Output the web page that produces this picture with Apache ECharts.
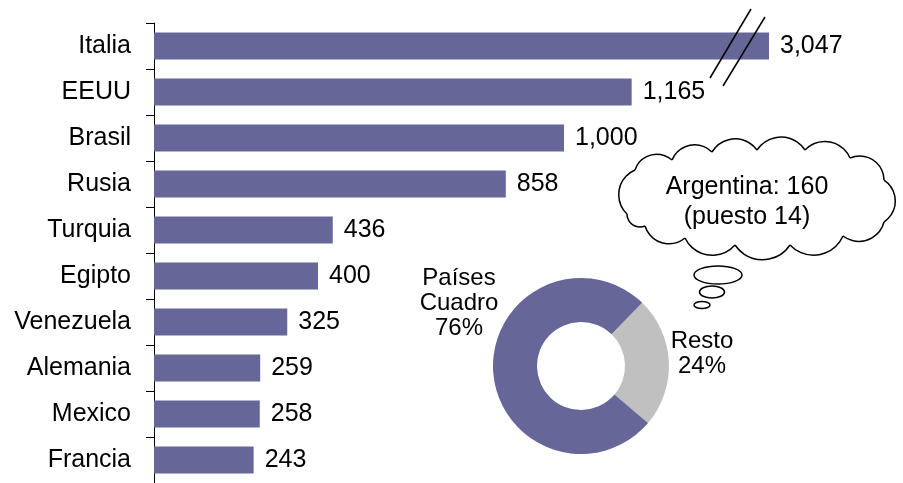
<!DOCTYPE html>
<html>
<head>
<meta charset="utf-8">
<script src="https://cdn.jsdelivr.net/npm/echarts@6.0.0/dist/echarts.min.js"></script>
<style>
  html, body { margin: 0; padding: 0; background: #fff; }
  #main { width: 903px; height: 483px; }
</style>
</head>
<body>
<div id="main"></div>
<script>
// datos
var paises = ['Italia', 'EEUU', 'Brasil', 'Rusia', 'Turquia', 'Egipto', 'Venezuela', 'Alemania', 'Mexico', 'Francia'];
var valores = [3047, 1165, 1000, 858, 436, 400, 325, 259, 258, 243];
var partes = ['Resto', 'Países Cuadro'];
var porcentajes = [24, 76];
var notaPais = 'Argentina';
var notaValor = 160;
var notaPuesto = 14;

var fuente = '"Liberation Sans", Arial, sans-serif';
var violeta = '#666699';

var chartDom = document.getElementById('main');
var myChart = echarts.init(chartDom);

// contorno de la nube (decoracion): un arco por cada tramo
var nubePts = [[627,214],[635,170],[672,160],[712,152],[757,150],[805,150],[850,158],[884,180],[884,222],[843,236],[790,245],[735,245],[685,238],[645,226]];
function nubeArcos(pts) {
  var out = [];
  for (var i = 0; i < pts.length; i++) {
    var a = pts[i], b = pts[(i + 1) % pts.length];
    var dx = b[0] - a[0], dy = b[1] - a[1];
    var c = Math.sqrt(dx * dx + dy * dy);
    var r = c * 0.6;
    var h = Math.sqrt(r * r - c * c / 4);
    var cx = (a[0] + b[0]) / 2 - dy / c * h;
    var cy = (a[1] + b[1]) / 2 + dx / c * h;
    var s = Math.atan2(a[1] - cy, a[0] - cx);
    var e = Math.atan2(b[1] - cy, b[0] - cx);
    if (e < s) e += Math.PI * 2;
    out.push({
      type: 'arc', z: 100,
      shape: { cx: cx, cy: cy, r: r, startAngle: s, endAngle: e, clockwise: true },
      style: { fill: null, stroke: '#000', lineWidth: 1.5 }
    });
  }
  return out;
}

var option = {
  animation: false,
  textStyle: { fontFamily: fuente },
  // el eje corta en 1500: la barra de Italia queda recortada (con marcas de corte)
  grid: { left: 154, right: 134, top: 23, bottom: -5 },
  xAxis: {
    type: 'value',
    min: 0,
    max: 1500,
    axisLine: { show: false },
    axisTick: { show: false },
    axisLabel: { show: false },
    splitLine: { show: false }
  },
  yAxis: {
    type: 'category',
    inverse: true,
    data: paises,
    axisLine: { show: true, lineStyle: { color: '#000', width: 1 } },
    axisTick: { show: true, length: 8, lineStyle: { color: '#000' } },
    axisLabel: { color: '#000', fontSize: 25, fontFamily: fuente, margin: 23 }
  },
  series: [
    {
      type: 'bar',
      data: valores,
      barWidth: 27,
      clip: true,
      itemStyle: { color: violeta },
      label: {
        show: true,
        position: 'right',
        distance: 11,
        color: '#000',
        fontSize: 25,
        fontFamily: fuente,
        formatter: function (p) { return p.value.toLocaleString('en-US'); }
      }
    },
    {
      type: 'pie',
      center: [581, 366],
      radius: [44, 88],
      startAngle: 46,
      clockwise: true,
      silent: true,
      data: partes.map(function (n, i) {
        return { name: n, value: porcentajes[i], itemStyle: { color: i === 0 ? '#c0c0c0' : violeta } };
      }),
      label: {
        show: true,
        position: 'outside',
        color: '#000',
        fontSize: 24,
        lineHeight: 25,
        fontFamily: fuente,
        align: 'center',
        formatter: function (p) { return p.name.replace(' ', '\n') + '\n' + p.value + '%'; }
      },
      labelLine: { show: false },
      labelLayout: function (p) {
        if (p.dataIndex === 0) return { x: 702, y: 354, align: 'center', verticalAlign: 'middle' };
        return { x: 459, y: 303, align: 'center', verticalAlign: 'middle' };
      }
    }
  ],
  graphic: [
    // marcas de corte en la barra de Italia
    { type: 'line', shape: { x1: 751, y1: 9, x2: 710, y2: 78 }, style: { stroke: '#000', lineWidth: 1.5 }, z: 100 },
    { type: 'line', shape: { x1: 765, y1: 17, x2: 723, y2: 86 }, style: { stroke: '#000', lineWidth: 1.5 }, z: 100 },
    // burbujas de pensamiento
    { type: 'ellipse', shape: { cx: 718, cy: 275, rx: 24, ry: 9 }, style: { fill: '#fff', stroke: '#000', lineWidth: 1.5 }, z: 100 },
    { type: 'ellipse', shape: { cx: 712, cy: 292, rx: 12.5, ry: 6 }, style: { fill: '#fff', stroke: '#000', lineWidth: 1.5 }, z: 100 },
    { type: 'ellipse', shape: { cx: 702, cy: 305, rx: 8, ry: 3.5 }, style: { fill: '#fff', stroke: '#000', lineWidth: 1.5 }, z: 100 },
    {
      type: 'text', x: 747, y: 202, z: 101,
      style: {
        text: notaPais + ': ' + notaValor + '\n(puesto ' + notaPuesto + ')',
        fill: '#000', font: '25px ' + fuente, lineHeight: 30,
        align: 'center', verticalAlign: 'middle'
      }
    }
  ].concat(nubeArcos(nubePts))
};

myChart.setOption(option);
</script>
</body>
</html>
